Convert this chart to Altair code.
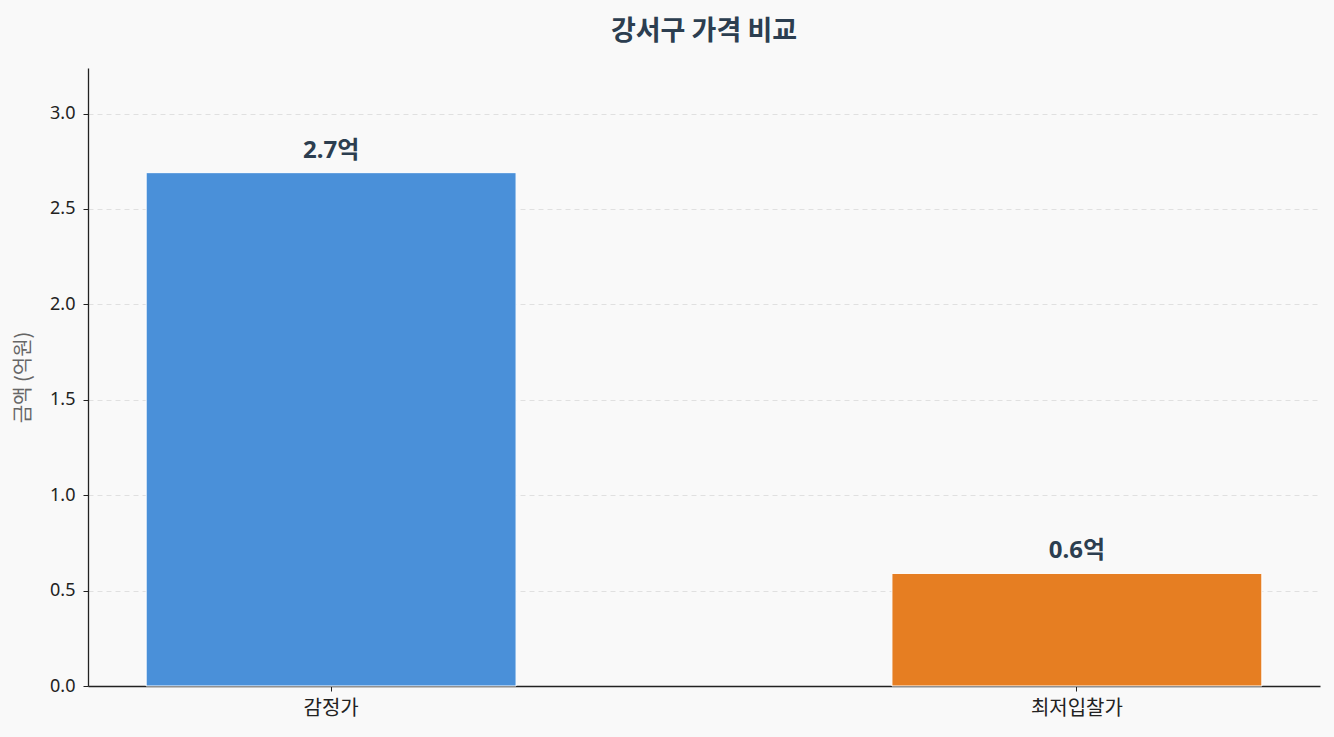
import altair as alt
import pandas as pd
import jinja2

categories = ["감정가", "최저입찰가"]
values = [2.69, 0.59]
labels = ["2.7억", "0.6억"]
colors = ["#4a90d9", "#e67e22"]

df = pd.DataFrame({"category": categories, "value": values, "label": labels})

FONT = "Noto Sans, Noto Sans CJK KR"
KFONT = "Noto Sans CJK KR"
BG = "#f9f9f9"

x = alt.X("category:N", sort=categories, title=None,
          scale=alt.Scale(paddingInner=0.504, paddingOuter=0.078),
          axis=alt.Axis(labelAngle=0, labelFontSize=20, labelColor="#222222",
                        labelFont=KFONT, domainColor="#222222", tickColor="#222222",
                        tickSize=5, labelPadding=7, grid=False, domainWidth=1.3))

y = alt.Y("value:Q", title="금액 (억원)",
          scale=alt.Scale(domain=[0, 3.2385], nice=False),
          axis=alt.Axis(values=[0, 0.5, 1.0, 1.5, 2.0, 2.5, 3.0], format=".1f",
                        labelFontSize=18, labelColor="#222222", labelFont=FONT,
                        titleFont=KFONT, titleFontSize=20, titleColor="#666666",
                        titleFontWeight="normal", titlePadding=16,
                        domainColor="#222222", tickColor="#222222", tickSize=5,
                        labelPadding=8, grid=True, gridColor="#e0e0e0",
                        gridDash=[5, 4], gridWidth=1, domainWidth=1.3))

bars = alt.Chart(df).mark_bar(stroke="white", strokeWidth=1).encode(
    x=x, y=y,
    color=alt.Color("category:N", scale=alt.Scale(domain=categories, range=colors),
                    legend=None),
)

text = alt.Chart(df).mark_text(baseline="bottom", dy=-10, fontSize=24,
                               fontWeight="bold", color="#2c3e50", font=FONT).encode(
    x=alt.X("category:N", sort=categories),
    y="value:Q",
    text="label:N",
)

chart = alt.layer(bars, text).properties(
    width=1232, height=618,
    title=alt.TitleParams("강서구 가격 비교", fontSize=27, fontWeight="bold",
                          color="#2c3e50", font=KFONT, anchor="middle",
                          frame="group", offset=22),
    background=BG,
    padding={"left": 80, "top": 60, "right": 6, "bottom": 43},
    autosize=alt.AutoSizeParams(type="none"),
).configure_view(stroke=None)

TEMPLATE = jinja2.Template("""<!DOCTYPE html>
<html>
<head>
  <style>
    body { background: """ + BG + """; }
    #{{ output_div }}.vega-embed { width: 100%; display: flex; }
    #{{ output_div }}.vega-embed details,
    #{{ output_div }}.vega-embed details summary { position: relative; }
  </style>
  <script type="text/javascript" src="{{ base_url }}/vega@{{ vega_version }}"></script>
  <script type="text/javascript" src="{{ base_url }}/vega-lite@{{ vegalite_version }}"></script>
  <script type="text/javascript" src="{{ base_url }}/vega-embed@{{ vegaembed_version }}"></script>
</head>
<body>
  <div id="{{ output_div }}"></div>
  <script>
    (function(vegaEmbed) {
      var spec = {{ spec }};
      var embedOpt = {{ embed_options }};
      function showError(el, error){
          el.innerHTML = ('<div style="color:red;"><p>JavaScript Error: ' + error.message + '</p></div>');
          throw error;
      }
      const el = document.getElementById('{{ output_div }}');
      vegaEmbed("#{{ output_div }}", spec, embedOpt)
        .catch(error => showError(el, error));
    })(vegaEmbed);
  </script>
</body>
</html>
""")

chart.save("out.html", embed_options={"renderer": "svg", "actions": False},
           template=TEMPLATE)
